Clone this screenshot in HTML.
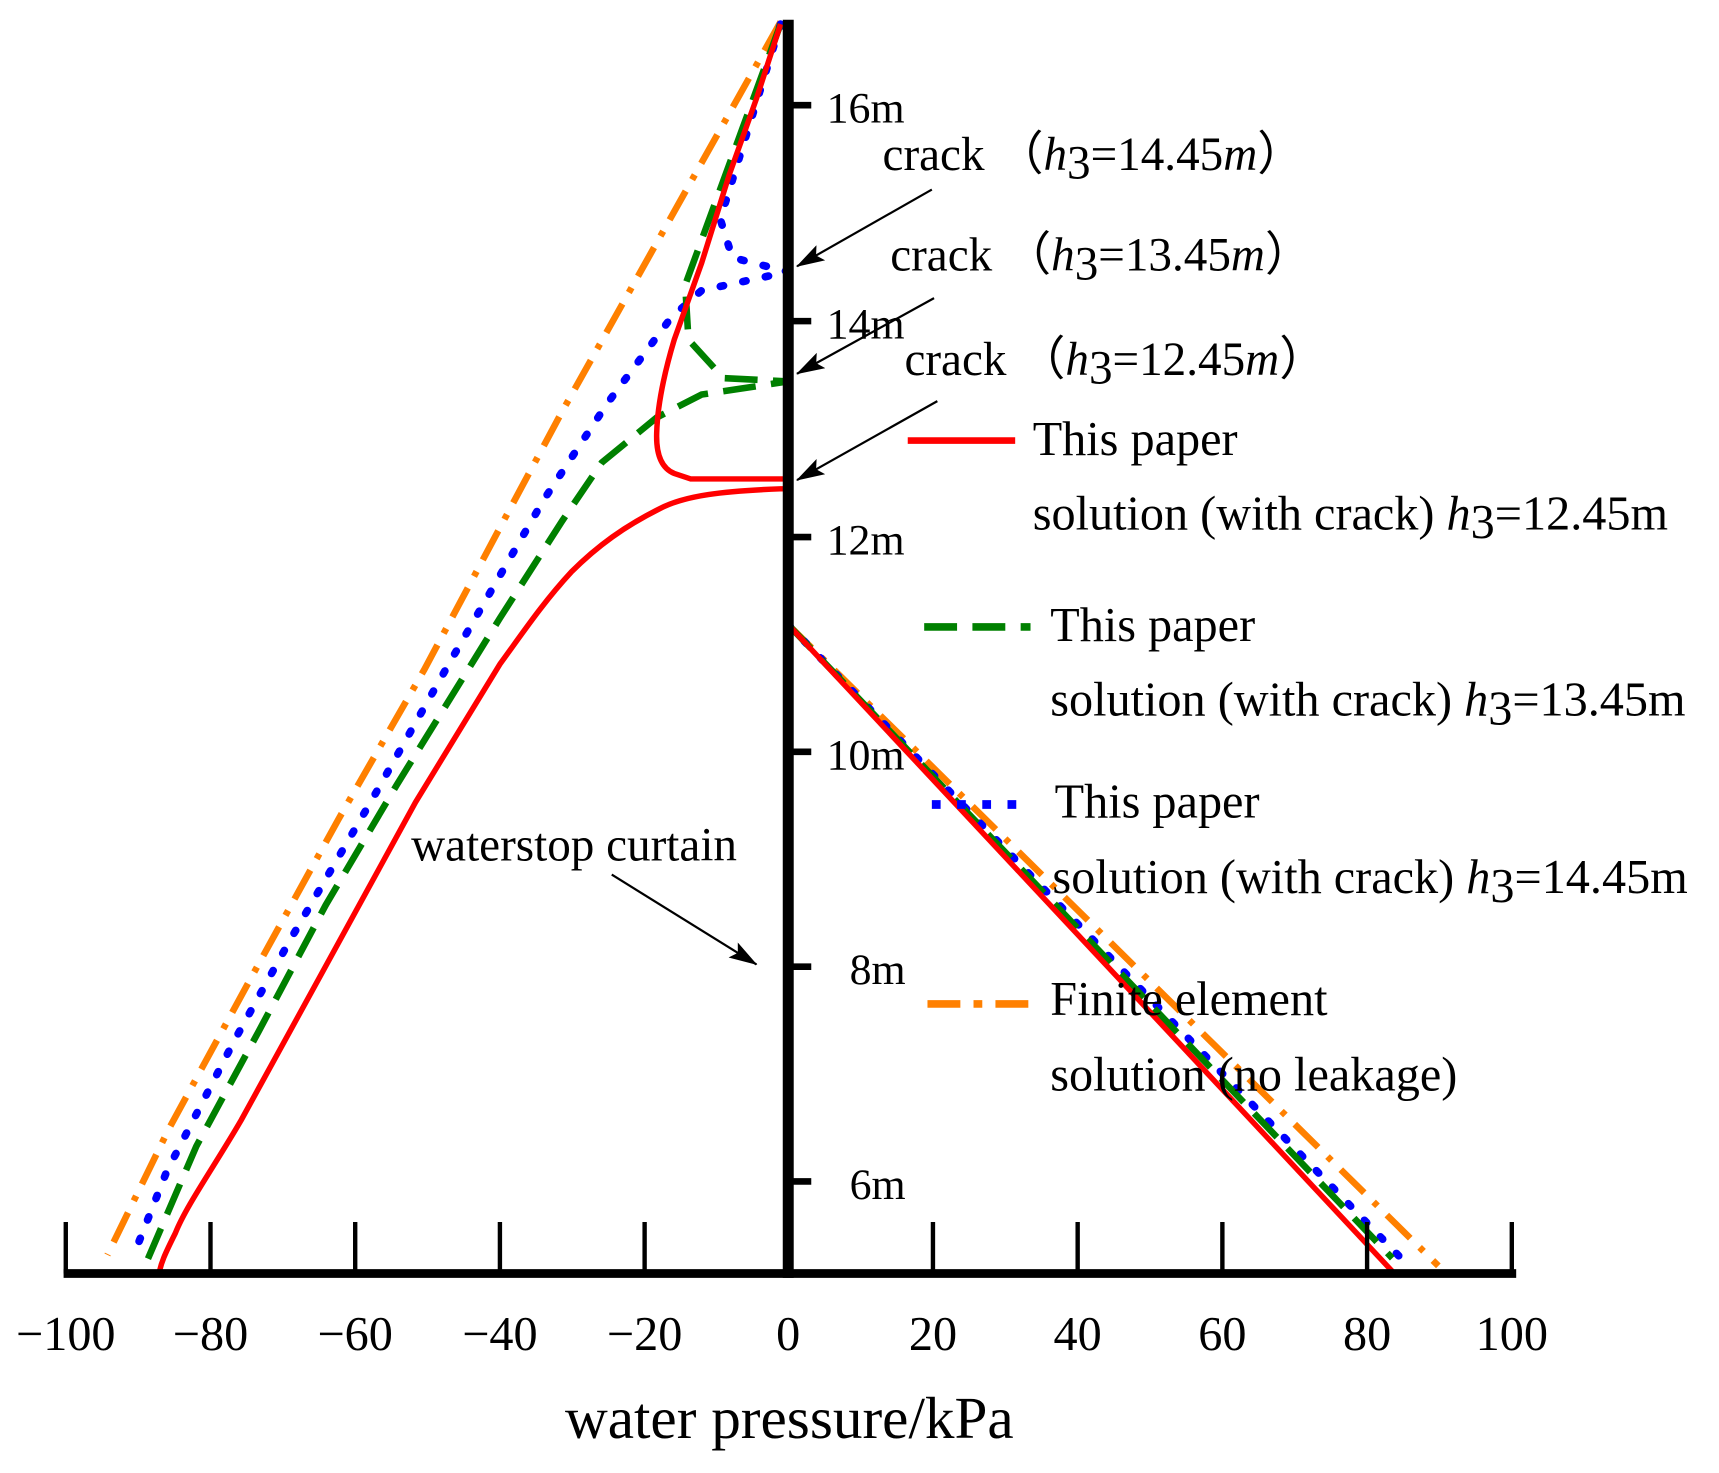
<!DOCTYPE html>
<html><head><meta charset="utf-8"><style>
html,body{margin:0;padding:0;background:#fff;}
svg{display:block;}
text{font-family:"Liberation Serif",serif;fill:#000;}
</style></head><body>
<svg width="1719" height="1473" viewBox="0 0 1568 1344" preserveAspectRatio="none" xmlns="http://www.w3.org/2000/svg">
<defs>
<marker id="ar2" markerWidth="26" markerHeight="16" refX="25" refY="8" orient="auto" markerUnits="userSpaceOnUse"><path d="M0,0 L26,8 L0,16 L5,8 z" fill="#000"/></marker></defs>

<!-- right side lines -->
<polyline points="719,570 1312,1155" fill="none" stroke="#ff8000" stroke-width="6" stroke-dasharray="30,12,5,12"/>
<polyline points="719,570 1277,1147" fill="none" stroke="#0000ff" stroke-width="7" stroke-dasharray="3,18" stroke-linecap="round"/>
<polyline points="719,570 1270,1148" fill="none" stroke="#008000" stroke-width="6" stroke-dasharray="30,14"/>
<polyline points="719,570 1270,1160" fill="none" stroke="#ff0000" stroke-width="5"/>

<!-- left side -->
<polyline points="712,20 513,375 468,459 387,611 309,747 228,894 154,1030 98,1145" fill="none" stroke="#ff8000" stroke-width="6" stroke-dasharray="30,12,5,12"/>
<polyline points="712,22 657,200 668,235 719,248 640,265 612,290 554,368 496,456 411,603 338,732 265,857 214,949 152,1069 122,1145" fill="none" stroke="#0000ff" stroke-width="7" stroke-dasharray="3,18" stroke-linecap="round"/>
<polyline points="712,22 625,260 628,310 660,345 719,348 640,360 599,381 549,422 513,475 456,564 362,716 297,826 236,941 179,1046 130,1160" fill="none" stroke="#008000" stroke-width="6" stroke-dasharray="30,14"/>
<path d="M712,22 L690,90 L665,160 L640,240 L615,310 Q600,360 599,395 Q598,425 615,432 L630,437 L719,437" fill="none" stroke="#ff0000" stroke-width="5"/>
<path d="M719,446 L712,446 C660,448 625,452 602,464 C570,480 545,498 521,522 C495,550 475,580 456,606 L379,732 L293,889 L220,1022 C195,1065 170,1100 160,1125 C150,1145 147,1152 145,1162" fill="none" stroke="#ff0000" stroke-width="5"/>

<!-- axes -->
<line x1="719" y1="18" x2="719" y2="1166" stroke="#000" stroke-width="10"/>
<line x1="58" y1="1162" x2="1383" y2="1162" stroke="#000" stroke-width="8"/>
<g stroke="#000" stroke-width="4">
<line x1="60" y1="1115" x2="60" y2="1162"/><line x1="192" y1="1115" x2="192" y2="1162"/><line x1="324" y1="1115" x2="324" y2="1162"/><line x1="456" y1="1115" x2="456" y2="1162"/><line x1="588" y1="1115" x2="588" y2="1162"/><line x1="851" y1="1115" x2="851" y2="1162"/><line x1="983" y1="1115" x2="983" y2="1162"/><line x1="1115" y1="1115" x2="1115" y2="1162"/><line x1="1247" y1="1115" x2="1247" y2="1162"/><line x1="1379" y1="1115" x2="1379" y2="1162"/>
</g>
<g stroke="#000" stroke-width="6">
<line x1="719" y1="96" x2="740" y2="96"/><line x1="719" y1="293" x2="740" y2="293"/><line x1="719" y1="490" x2="740" y2="490"/><line x1="719" y1="686" x2="740" y2="686"/><line x1="719" y1="882" x2="740" y2="882"/><line x1="719" y1="1078" x2="740" y2="1078"/>
</g>
<g font-size="44" text-anchor="middle">
<text x="60" y="1232">−100</text><text x="192" y="1232">−80</text><text x="324" y="1232">−60</text><text x="456" y="1232">−40</text><text x="588" y="1232">−20</text><text x="719" y="1232">0</text><text x="851" y="1232">20</text><text x="983" y="1232">40</text><text x="1115" y="1232">60</text><text x="1247" y="1232">80</text><text x="1379" y="1232">100</text>
</g>
<text x="720" y="1312" font-size="54" text-anchor="middle">water pressure/kPa</text>
<g font-size="40">
<text x="754" y="112">16m</text><text x="754" y="309">14m</text><text x="754" y="506">12m</text><text x="754" y="702">10m</text><text x="775" y="898">8m</text><text x="775" y="1094">6m</text>
</g>

<g font-size="43">
<text x="805" y="155">crack （<tspan font-style="italic">h</tspan><tspan dy="8">3</tspan><tspan dy="-8">=14.45</tspan><tspan font-style="italic">m</tspan>）</text>
<text x="812" y="247">crack （<tspan font-style="italic">h</tspan><tspan dy="8">3</tspan><tspan dy="-8">=13.45</tspan><tspan font-style="italic">m</tspan>）</text>
<text x="825" y="342">crack （<tspan font-style="italic">h</tspan><tspan dy="8">3</tspan><tspan dy="-8">=12.45</tspan><tspan font-style="italic">m</tspan>）</text>
<text x="375" y="785">waterstop curtain</text>
</g>
<g stroke="#000" stroke-width="2">
<line x1="850" y1="173" x2="727" y2="243" marker-end="url(#ar2)"/>
<line x1="852" y1="272" x2="727" y2="341" marker-end="url(#ar2)"/>
<line x1="855" y1="366" x2="727" y2="438" marker-end="url(#ar2)"/>
<line x1="558" y1="798" x2="690" y2="880" marker-end="url(#ar2)"/>
</g>

<!-- legend -->
<line x1="828" y1="402" x2="926" y2="402" stroke="#ff0000" stroke-width="6"/>
<line x1="843" y1="572" x2="940" y2="572" stroke="#008000" stroke-width="7" stroke-dasharray="30,14"/>
<line x1="850" y1="734" x2="940" y2="734" stroke="#0000ff" stroke-width="8" stroke-dasharray="8,15"/>
<line x1="846" y1="916" x2="944" y2="916" stroke="#ff8000" stroke-width="7" stroke-dasharray="30,12,8,12"/>
<g font-size="44">
<text x="942" y="415">This paper</text>
<text x="942" y="483">solution (with crack) <tspan font-style="italic">h</tspan><tspan dy="8">3</tspan><tspan dy="-8">=12.45m</tspan></text>
<text x="958" y="585">This paper</text>
<text x="958" y="653">solution (with crack) <tspan font-style="italic">h</tspan><tspan dy="8">3</tspan><tspan dy="-8">=13.45m</tspan></text>
<text x="962" y="746">This paper</text>
<text x="960" y="815">solution (with crack) <tspan font-style="italic">h</tspan><tspan dy="8">3</tspan><tspan dy="-8">=14.45m</tspan></text>
<text x="958" y="926">Finite element</text>
<text x="958" y="995">solution (no leakage)</text>
</g>
</svg>
</body></html>
